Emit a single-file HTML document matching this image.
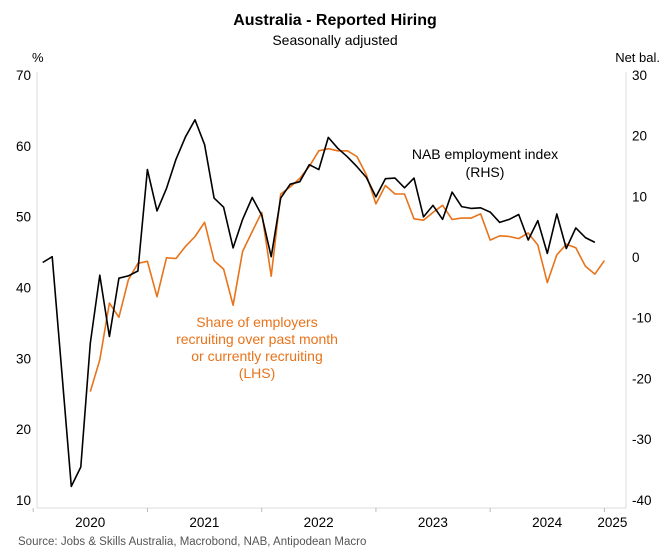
<!DOCTYPE html>
<html><head><meta charset="utf-8"><style>
body{margin:0;background:#fff;}
svg{display:block;font-family:"Liberation Sans",Arial,sans-serif;}
</style></head><body>
<svg id="chart" width="670" height="550" viewBox="0 0 670 550" xmlns="http://www.w3.org/2000/svg">
<text x="335" y="25" text-anchor="middle" font-size="16" font-weight="bold" fill="#000">Australia - Reported Hiring</text>
<text x="335" y="45" text-anchor="middle" font-size="14" fill="#000">Seasonally adjusted</text>
<text x="32" y="62" font-size="13" fill="#000">%</text>
<text x="660" y="62" text-anchor="end" font-size="13" fill="#000">Net bal.</text>
<line x1="37" y1="72" x2="37" y2="508" stroke="#ddd"/>
<line x1="626" y1="72" x2="626" y2="508" stroke="#ddd"/>
<line x1="37" y1="508" x2="626" y2="508" stroke="#ddd"/>
<g id="ticks"></g>
<g id="series"></g>
<text x="485" y="159" text-anchor="middle" font-size="14" fill="#000">NAB employment index</text>
<text x="485" y="177" text-anchor="middle" font-size="14" fill="#000">(RHS)</text>
<g font-size="14" fill="#e8731a" text-anchor="middle">
<text x="257" y="327">Share of employers</text>
<text x="257" y="344">recruiting over past month</text>
<text x="257" y="361">or currently recruiting</text>
<text x="257" y="378">(LHS)</text>
</g>
<text x="18" y="545" font-size="11.5" fill="#555">Source: Jobs &amp; Skills Australia, Macrobond, NAB, Antipodean Macro</text>
</svg>
<script>
const yearLabels = ["2020","2021","2022","2023","2024","2025"];
const leftTicks = [10,20,30,40,50,60,70];
const rightTicks = [-40,-30,-20,-10,0,10,20,30];
const nabStart = 1; // months since Jan 2020
const nabValues = [-0.9,0.05,-18.9,-37.8,-34.6,-14.2,-3.0,-13.1,-3.5,-3.1,-2.3,14.4,7.6,11.3,16.1,19.8,22.6,18.5,9.7,8.2,1.5,6.2,9.8,6.9,0.05,9.7,12.0,12.4,15.2,14.4,19.7,17.9,16.5,14.9,13.1,9.9,12.9,13.0,11.4,13.0,6.6,8.5,6.2,10.7,8.3,8.0,8.1,7.4,5.7,6.2,7.0,2.8,6.0,0.6,7.1,1.4,4.8,3.2,2.4];
const shareStart = 6;
const shareValues = [25.3,29.8,37.8,35.8,41.1,43.4,43.7,38.7,44.2,44.1,45.8,47.2,49.2,43.8,42.6,37.5,45.1,47.9,50.6,41.6,53.2,54.2,55.4,57.1,59.3,59.6,59.3,59.3,58.5,55.9,51.8,54.4,53.2,53.2,49.7,49.5,50.6,51.6,49.6,49.8,49.8,50.4,46.7,47.3,47.2,46.9,47.7,46.0,40.7,44.6,46.1,45.6,43.0,41.9,43.8];

const x = m => 33.2 + m * 9.52;
const yL = v => 500 - (v - 10) * 7.083;
const yR = v => 257 - v * 6.07;
const NS = "http://www.w3.org/2000/svg";
const tg = document.getElementById('ticks');
const sg = document.getElementById('series');
function mk(tag, attrs, parent){const e=document.createElementNS(NS,tag);for(const k in attrs)e.setAttribute(k,attrs[k]);parent.appendChild(e);return e;}

yearLabels.forEach((lab,i)=>{
  const tx = x(i*12);
  const t = mk('line',{x1:tx,y1:508,x2:tx,y2:512,stroke:'#bbb'},tg);
  
  
  const lx = i < yearLabels.length-1 ? tx + 57 : tx + 8;
  const l = mk('text',{x:lx,y:527,'text-anchor':'middle','font-size':13.5,fill:'#000'},tg);
  l.textContent = lab;
  
  
});
leftTicks.forEach(v=>{
  const l = mk('text',{x:31,y:yL(v)+5,'text-anchor':'end','font-size':13.5,fill:'#000'},tg);
  l.textContent = v;
  
  
});
rightTicks.forEach(v=>{
  const l = mk('text',{x:632,y:yR(v)+5,'font-size':13.5,fill:'#000'},tg);
  l.textContent = v;
  
  
});
const sharePts = shareValues.map((v,i)=>x(shareStart+i).toFixed(1)+','+yL(v).toFixed(1)).join(' ');
const sp = mk('polyline',{points:sharePts,fill:'none',stroke:'#e8731a','stroke-width':1.6,'stroke-linejoin':'round'},sg);


const nabPts = nabValues.map((v,i)=>x(nabStart+i).toFixed(1)+','+yR(v).toFixed(1)).join(' ');
const np = mk('polyline',{points:nabPts,fill:'none',stroke:'#000','stroke-width':1.6,'stroke-linejoin':'round'},sg);


</script>
</body></html>
